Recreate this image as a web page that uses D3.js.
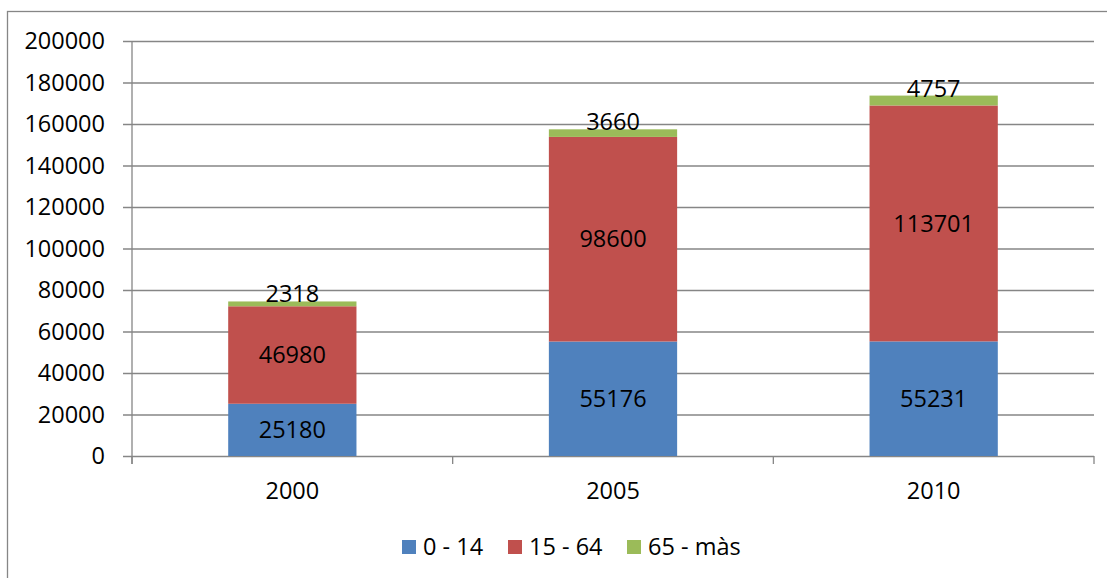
<!DOCTYPE html>
<html>
<head>
<meta charset="utf-8">
<script src="https://cdn.jsdelivr.net/npm/d3@7"></script>
<style>
  html, body { margin: 0; padding: 0; background: #ffffff; }
  svg { display: block; font-family: "Open Sans", "Noto Sans", sans-serif; }
</style>
</head>
<body>
<svg id="chart" width="1107" height="578"></svg>
<script>
const categories = ["2000", "2005", "2010"];
const seriesNames = ["0 - 14", "15 - 64", "65 - màs"];
const values0to14 = [25180, 55176, 55231];
const values15to64 = [46980, 98600, 113701];
const values65plus = [2318, 3660, 4757];
const yTickValues = [0, 20000, 40000, 60000, 80000, 100000, 120000, 140000, 160000, 180000, 200000];
const colors = ["#4F81BD", "#C0504D", "#9BBB59"];

(function () {
const svg = d3.select("#chart");
const fontSize = 23.5;
const gridColor = "#868686";

// outer frame
svg.append("rect")
  .attr("x", 7.5).attr("y", 11.5)
  .attr("width", 1115).attr("height", 590)
  .attr("fill", "none").attr("stroke", gridColor).attr("stroke-width", 1.3);

const pLeft = 132, pRight = 1094, pTop = 41, pBottom = 456;

const x = d3.scaleBand().domain(categories).range([pLeft, pRight])
  .paddingInner(0.6).paddingOuter(0.3);
const y = d3.scaleLinear().domain([0, 200000]).range([pBottom, pTop]);

// y axis with gridlines
const yAxis = d3.axisLeft(y).tickValues(yTickValues)
  .tickSizeInner(-(pRight - 123)).tickSizeOuter(0).tickPadding(18)
  .tickFormat(d => String(d));
const gy = svg.append("g").attr("transform", "translate(123,0)").call(yAxis);
gy.select(".domain").remove();
gy.selectAll(".tick line").attr("stroke", gridColor).attr("stroke-width", 1.3);
gy.selectAll(".tick text").attr("fill", "#000").attr("font-size", fontSize)
  .attr("font-family", "'Open Sans', 'Noto Sans', sans-serif");

// y axis line
svg.append("line").attr("x1", pLeft).attr("x2", pLeft).attr("y1", pTop).attr("y2", pBottom + 8)
  .attr("stroke", gridColor).attr("stroke-width", 1.3);

// category boundary ticks
const step = x.step();
const boundaries = d3.range(categories.length + 1).map(i => pLeft + i * step);
svg.selectAll("line.ctick").data(boundaries).enter().append("line")
  .attr("class", "ctick")
  .attr("x1", d => Math.min(d, pRight)).attr("x2", d => Math.min(d, pRight))
  .attr("y1", pBottom).attr("y2", pBottom + 8)
  .attr("stroke", gridColor).attr("stroke-width", 1.3);

// category labels
svg.selectAll("text.cat").data(categories).enter().append("text")
  .attr("class", "cat")
  .attr("x", d => x(d) + x.bandwidth() / 2)
  .attr("y", 491).attr("dy", "0.35em")
  .attr("text-anchor", "middle").attr("font-size", fontSize).attr("fill", "#000")
  .text(d => d);

// stacked data
const rows = categories.map((c, i) => ({
  cat: c, a: values0to14[i], b: values15to64[i], c: values65plus[i]
}));
const stack = d3.stack().keys(["a", "b", "c"]);
const series = stack(rows);

series.forEach((s, si) => {
  const g = svg.append("g");
  g.selectAll("rect").data(s).enter().append("rect")
    .attr("x", d => x(d.data.cat))
    .attr("width", x.bandwidth())
    .attr("y", d => y(d[1]))
    .attr("height", d => y(d[0]) - y(d[1]))
    .attr("fill", colors[si]);
});

// labels
series.forEach((s, si) => {
  const g = svg.append("g");
  g.selectAll("text").data(s).enter().append("text")
    .attr("x", d => x(d.data.cat) + x.bandwidth() / 2)
    .attr("y", d => si === 2 ? y(d[1]) + 1 : (y(d[0]) + y(d[1])) / 2)
    .attr("dy", si === 2 ? "0" : "0.35em")
    .attr("text-anchor", "middle").attr("font-size", fontSize).attr("fill", "#000")
    .text(d => String(d[1] - d[0]));
});

// legend
const legendX = [402, 508, 627];
const lg = svg.append("g");
seriesNames.forEach((n, i) => {
  lg.append("rect").attr("x", legendX[i]).attr("y", 540).attr("width", 14).attr("height", 14)
    .attr("fill", colors[i]);
  lg.append("text").attr("x", legendX[i] + 21).attr("y", 547).attr("dy", "0.35em")
    .attr("font-size", fontSize).attr("fill", "#000").text(n);
});
})();
</script>
</body>
</html>
